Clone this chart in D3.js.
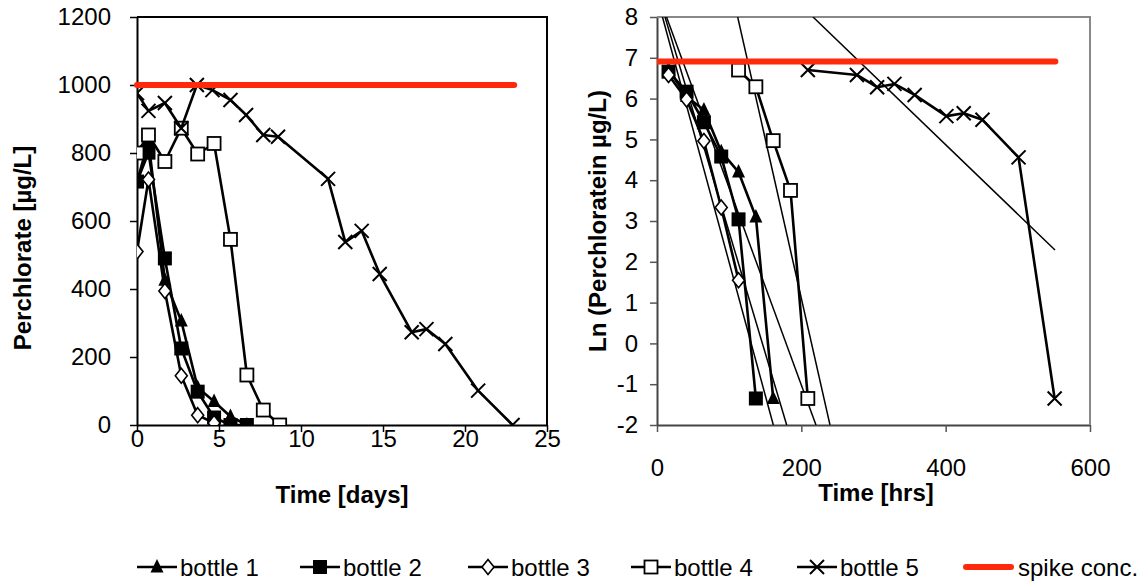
<!DOCTYPE html>
<html><head><meta charset="utf-8">
<script src="https://cdn.jsdelivr.net/npm/d3@7"></script>
<style>
body{margin:0;background:#fff}
svg{display:block}
text{font-family:Arial,"Liberation Sans",Helvetica,sans-serif;fill:#000}
</style>
</head><body>
<svg id="c" width="1137" height="586"></svg>
<script>
// ---------- Left panel data: concentration [µg/L] vs time [days] ----------
const b1Days = [0, 0.7, 1.7, 2.7, 3.7, 4.7, 5.7, 6.7];
const b1Conc = [715, 835, 426, 306, 110, 69, 25, 0];
const b2Days = [0, 0.7, 1.7, 2.7, 3.7, 4.7, 5.7, 6.7];
const b2Conc = [716, 801, 490, 225, 98, 22, 0, 0];
const b3Days = [0, 0.7, 1.7, 2.7, 3.7, 4.7];
const b3Conc = [510, 722, 394, 145, 29, 6];
const b4Days = [0, 0.7, 1.7, 2.7, 3.7, 4.7, 5.7, 6.7, 7.7, 8.7];
const b4Conc = [800, 853, 775, 873, 797, 828, 546, 147, 44, 0];
const b5Days = [0, 0.7, 1.7, 2.7, 3.65, 4.6, 5.7, 6.65, 7.7, 8.6, 11.65, 12.7, 13.7, 14.8, 16.75, 17.65, 18.8, 20.8, 22.9];
const b5Conc = [976, 924, 947, 873, 1000, 985, 956, 912, 853, 848, 724, 538, 571, 444, 273, 282, 238, 101, 0];
const spikeDays = [0, 23];
const spikeConc = [1000, 1000];

// ---------- Right panel data: Ln(conc) vs time [hrs] ----------
const b1Hrs = [16, 41, 65, 89, 113, 137, 161];
const b1Ln  = [6.72, 6.05, 5.72, 4.70, 4.20, 3.10, -1.35];
const b2Hrs = [16, 41, 65, 89, 113, 137];
const b2Ln  = [6.66, 6.17, 5.42, 4.58, 3.04, -1.35];
const b3Hrs = [16, 41, 65, 89, 113];
const b3Ln  = [6.58, 5.98, 4.96, 3.33, 1.55];
const b4Hrs = [113, 137, 161, 185, 209];
const b4Ln  = [6.70, 6.29, 4.97, 3.75, -1.35];
const b5Hrs = [209, 277, 305, 329, 357, 401, 425, 451, 501, 551];
const b5Ln  = [6.70, 6.58, 6.28, 6.36, 6.09, 5.57, 5.64, 5.48, 4.56, -1.35];
const spikeHrs = [0, 552];
const spikeLn  = [6.91, 6.91];
// straight trend lines (start/end) in data units
const fitHrs = [[7.6, 161.2], [11.1, 179.7], [13.2, 220.3], [111.8, 239.7], [216.2, 551.5]];
const fitLn  = [[8, -2], [8, -2], [8, -2], [8, -2], [8, 2.29]];

// ---------- Axis ticks & labels ----------
const leftXTicks = [0, 5, 10, 15, 20, 25];
const leftYTicks = [0, 200, 400, 600, 800, 1000, 1200];
const rightXTicks = [0, 200, 400, 600];
const rightYTicks = [-2, -1, 0, 1, 2, 3, 4, 5, 6, 7, 8];
const seriesNames = ["bottle 1", "bottle 2", "bottle 3", "bottle 4", "bottle 5", "spike conc."];
const markerTypes = ["tri", "sqF", "dia", "sqO", "x"];

const svg = d3.select("#c");
const RED = "#ff2a0a";
const FS = 24;
const fmt = d => String(d);

// scales
const xL = d3.scaleLinear().domain([0, 25]).range([137, 547]);
const yL = d3.scaleLinear().domain([0, 1200]).range([425, 17]);
const xR = d3.scaleLinear().domain([0, 600]).range([657, 1090]);
const yR = d3.scaleLinear().domain([-2, 8]).range([425, 17]);

function marker(g, type, x, y) {
  if (type === "tri") {
    g.append("path").attr("d", `M${x},${y-8}L${x+6.5},${y+5.5}L${x-6.5},${y+5.5}Z`).attr("fill", "#000");
  } else if (type === "sqF") {
    g.append("rect").attr("x", x-7).attr("y", y-7).attr("width", 14).attr("height", 14).attr("fill", "#000");
  } else if (type === "dia") {
    g.append("path").attr("d", `M${x},${y-7.5}L${x+6},${y}L${x},${y+7.5}L${x-6},${y}Z`)
      .attr("fill", "#fff").attr("stroke", "#000").attr("stroke-width", 1.6);
  } else if (type === "sqO") {
    g.append("rect").attr("x", x-6.5).attr("y", y-6.5).attr("width", 13).attr("height", 13)
      .attr("fill", "#fff").attr("stroke", "#000").attr("stroke-width", 1.8);
  } else if (type === "x") {
    g.append("path").attr("d", `M${x-7},${y-7}L${x+7},${y+7}M${x+7},${y-7}L${x-7},${y+7}`)
      .attr("stroke", "#000").attr("stroke-width", 2).attr("fill", "none");
  }
}

function drawSeries(g, xs, ys, xS, yS, type) {
  const pts = xs.map((d, i) => [xS(d), yS(ys[i])]);
  g.append("path").attr("d", d3.line()(pts)).attr("fill", "none")
    .attr("stroke", "#000").attr("stroke-width", 2.6).attr("stroke-linejoin", "round");
  pts.forEach(p => marker(g, type, p[0], p[1]));
}

function styleAxis(a, tickCol, domCol) {
  a.selectAll("text").attr("font-size", FS).attr("font-family", "Arial, Liberation Sans, sans-serif").attr("fill", "#000");
  a.selectAll("line").attr("stroke", tickCol).attr("stroke-width", 1.5);
  a.select(".domain").attr("stroke", domCol).attr("stroke-width", 2);
}

// ---------- LEFT PANEL ----------
{
  const g = svg.append("g");
  g.append("defs").append("clipPath").attr("id", "clipL").append("rect")
    .attr("x", 137).attr("y", 17).attr("width", 410).attr("height", 408);
  const xa = g.append("g").attr("transform", "translate(0,425)")
    .call(d3.axisBottom(xL).tickValues(leftXTicks).tickFormat(fmt).tickSize(7).tickSizeOuter(0).tickPadding(-2));
  const ya = g.append("g").attr("transform", "translate(137,0)")
    .call(d3.axisLeft(yL).tickValues(leftYTicks).tickFormat(fmt).tickSize(7).tickSizeOuter(0).tickPadding(19));
  styleAxis(xa, "#000", "#000");
  styleAxis(ya, "#000", "#000");
  g.append("path").attr("d", `M${xL(0)},${yL(1200)}H${xL(25)}V${yL(0)}`)
    .attr("fill", "none").attr("stroke", "#000").attr("stroke-width", 2);
  const p = g.append("g").attr("clip-path", "url(#clipL)");
  drawSeries(p, b1Days, b1Conc, xL, yL, "tri");
  drawSeries(p, b2Days, b2Conc, xL, yL, "sqF");
  drawSeries(p, b3Days, b3Conc, xL, yL, "dia");
  drawSeries(p, b4Days, b4Conc, xL, yL, "sqO");
  drawSeries(p, b5Days, b5Conc, xL, yL, "x");
  g.append("path").attr("d", d3.line()(spikeDays.map((d, i) => [xL(d), yL(spikeConc[i])])))
    .attr("stroke", RED).attr("stroke-width", 6).attr("stroke-linecap", "round").attr("fill", "none");
  g.append("text").attr("x", 342).attr("y", 503).attr("text-anchor", "middle")
    .attr("font-size", FS).attr("font-weight", "bold").text("Time [days]");
  g.append("text").attr("transform", "translate(31,248) rotate(-90)").attr("text-anchor", "middle")
    .attr("font-size", FS).attr("font-weight", "bold").text("Perchlorate [µg/L]");
}

// ---------- RIGHT PANEL ----------
{
  const g = svg.append("g");
  g.append("defs").append("clipPath").attr("id", "clipR").append("rect")
    .attr("x", 657).attr("y", 17).attr("width", 433).attr("height", 408);
  const xa = g.append("g").attr("transform", "translate(0,425)")
    .call(d3.axisBottom(xR).tickValues(rightXTicks).tickFormat(fmt).tickSize(7).tickSizeOuter(0).tickPadding(27));
  const ya = g.append("g").attr("transform", "translate(657,0)")
    .call(d3.axisLeft(yR).tickValues(rightYTicks).tickFormat(fmt).tickSize(7).tickSizeOuter(0).tickPadding(12));
  styleAxis(xa, "#555", "#444");
  styleAxis(ya, "#555", "#444");
  g.append("path").attr("d", `M${xR(0)},${yR(8)}H${xR(600)}V${yR(-2)}`)
    .attr("fill", "none").attr("stroke", "#888").attr("stroke-width", 2);
  const p = g.append("g").attr("clip-path", "url(#clipR)");
  fitHrs.forEach((h, i) => {
    p.append("path").attr("d", d3.line()(h.map((d, j) => [xR(d), yR(fitLn[i][j])])))
      .attr("stroke", "#000").attr("stroke-width", 1.5).attr("fill", "none");
  });
  drawSeries(p, b1Hrs, b1Ln, xR, yR, "tri");
  drawSeries(p, b2Hrs, b2Ln, xR, yR, "sqF");
  drawSeries(p, b3Hrs, b3Ln, xR, yR, "dia");
  drawSeries(p, b4Hrs, b4Ln, xR, yR, "sqO");
  drawSeries(p, b5Hrs, b5Ln, xR, yR, "x");
  p.append("path").attr("d", d3.line()(spikeHrs.map((d, i) => [xR(d), yR(spikeLn[i])])))
    .attr("stroke", RED).attr("stroke-width", 6).attr("stroke-linecap", "round").attr("fill", "none");
  g.append("text").attr("x", 876).attr("y", 501).attr("text-anchor", "middle")
    .attr("font-size", FS).attr("font-weight", "bold").text("Time [hrs]");
  g.append("text").attr("transform", "translate(606,221) rotate(-90)").attr("text-anchor", "middle")
    .attr("font-size", FS).attr("font-weight", "bold").text("Ln (Perchloratein µg/L)");
}

// ---------- LEGEND ----------
{
  const g = svg.append("g");
  const ly = 567;
  const lineStarts = [137, 300, 468, 631, 797, 963];
  seriesNames.forEach((name, i) => {
    const x0 = lineStarts[i];
    if (i < 5) {
      g.append("line").attr("x1", x0).attr("x2", x0 + 40).attr("y1", ly).attr("y2", ly)
        .attr("stroke", "#000").attr("stroke-width", 2.6);
      marker(g, markerTypes[i], x0 + 20, ly);
      g.append("text").attr("x", x0 + 43).attr("y", ly + 8.5).attr("font-size", FS).text(name);
    } else {
      g.append("line").attr("x1", x0 + 3).attr("x2", x0 + 48).attr("y1", ly).attr("y2", ly)
        .attr("stroke", RED).attr("stroke-width", 6).attr("stroke-linecap", "round");
      g.append("text").attr("x", x0 + 55).attr("y", ly + 8.5).attr("font-size", FS).text(name);
    }
  });
}
</script>
</body></html>
